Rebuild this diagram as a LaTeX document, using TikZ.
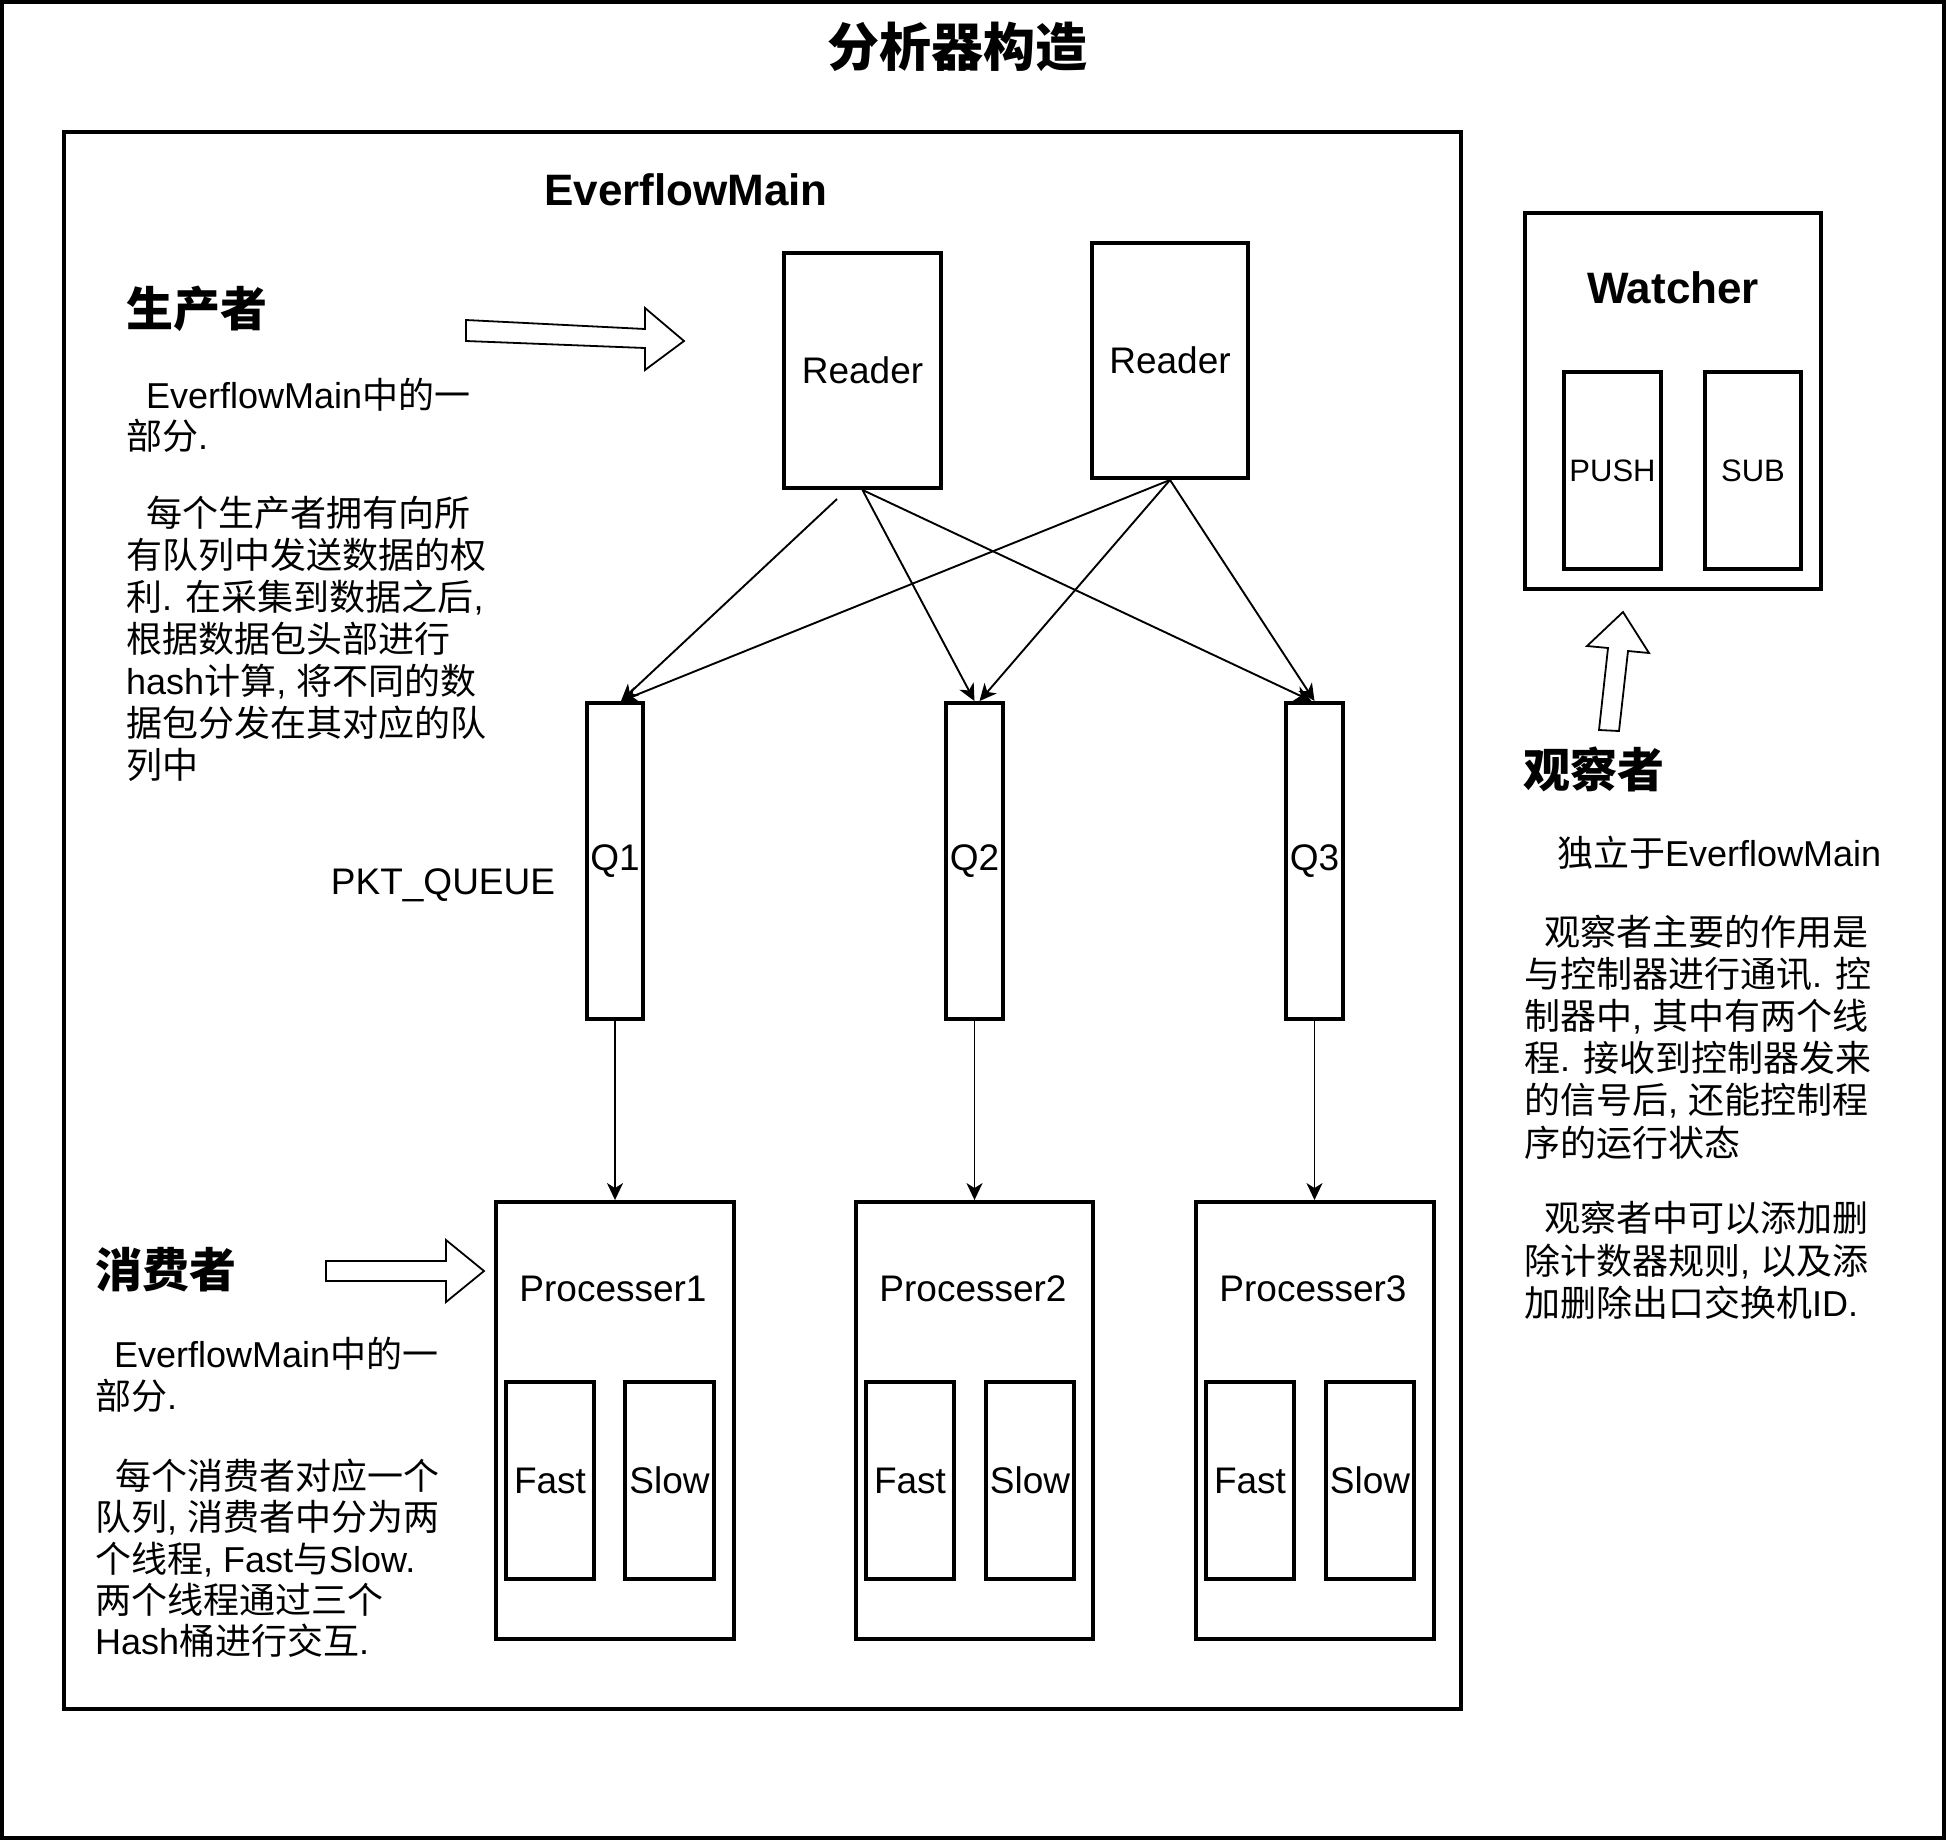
\documentclass[tikz,border=0pt]{standalone}
\usepackage{fontspec}
\setmainfont{Liberation Sans}
\newfontfamily\cjkfont{Noto Sans CJK SC}
\usetikzlibrary{arrows.meta,calc}

% Ideographs are set in the CJK family, everything else in the main family
\XeTeXinterchartokenstate=1
\newXeTeXintercharclass\hanclass
\count255="4E00
\loop
  \XeTeXcharclass\count255=\hanclass
  \advance\count255 by 1
\ifnum\count255<"A000 \repeat
\XeTeXinterchartoks 0 \hanclass = {\cjkfont}
\XeTeXinterchartoks 4095 \hanclass = {\cjkfont}
\XeTeXinterchartoks \hanclass 0 = {\rmfamily}
\XeTeXinterchartoks \hanclass 4095 = {\rmfamily}

\begin{document}
\begin{tikzpicture}[x=1pt,y=-1pt,
  box/.style={draw, line width=3.9pt, inner sep=0pt, rectangle},
  lbl/.style={font=\fontsize{37}{44}\selectfont},
  smalllbl/.style={font=\fontsize{31}{37}\selectfont},
  boldname/.style={inner sep=0pt, font=\fontsize{44}{52}\selectfont\bfseries},
  titletext/.style={inner sep=0pt, font=\fontsize{52}{62}\selectfont\bfseries},
  headtext/.style={anchor=west, inner sep=0pt, font=\fontsize{47}{56}\selectfont\bfseries},
  bodytext/.style={anchor=base west, inner sep=0pt, font=\fontsize{36}{42}\selectfont},
  flow/.style={-{Stealth[length=17pt,width=16pt,inset=5pt]}, line width=1.9pt},
  hollow/.style={draw, line width=1.8pt, fill=white, line join=miter},
]
\useasboundingbox (0,0) rectangle (1946,1840);

% outer frame and title
\node[box, minimum width=1942.1pt, minimum height=1836.1pt] (frame) at (973,920) {};
\node[titletext] (ttl) at (957,46.5) {分析器构造};

% EverflowMain container
\node[box, minimum width=1397pt, minimum height=1577pt] (main) at (762.5,920.5) {};
\node[boldname] (mainname) at (686,190) {EverflowMain};

% readers
\node[box, lbl, minimum width=157pt, minimum height=235pt] (r1) at (862.5,370.5) {Reader};
\node[box, lbl, minimum width=156pt, minimum height=235pt] (r2) at (1170,360.5) {Reader};

% queues
\node[box, lbl, minimum width=56pt, minimum height=316pt] (q1) at (615,861) {Q1};
\node[box, lbl, minimum width=57pt, minimum height=316pt] (q2) at (974.5,861) {Q2};
\node[box, lbl, minimum width=57pt, minimum height=316pt] (q3) at (1314.5,861) {Q3};
\node[lbl, anchor=base, inner sep=0pt] (pkt) at (443,894) {PKT\_QUEUE};

% processors with their two threads
\node[box, minimum width=238pt, minimum height=437pt] (p1) at (615,1420.5) {};
\node[box, minimum width=237pt, minimum height=437pt] (p2) at (974.5,1420.5) {};
\node[box, minimum width=238pt, minimum height=437pt] (p3) at (1315,1420.5) {};
\node[lbl] (p1t) at (613,1289) {Processer1};
\node[lbl] (p2t) at (973,1289) {Processer2};
\node[lbl] (p3t) at (1313,1289) {Processer3};
\node[box, lbl, minimum width=88pt, minimum height=197pt] (f1) at (550,1480.5) {Fast};
\node[box, lbl, minimum width=89pt, minimum height=197pt] (s1) at (669.5,1480.5) {Slow};
\node[box, lbl, minimum width=88pt, minimum height=197pt] (f2) at (910,1480.5) {Fast};
\node[box, lbl, minimum width=88pt, minimum height=197pt] (s2) at (1030,1480.5) {Slow};
\node[box, lbl, minimum width=88pt, minimum height=197pt] (f3) at (1250,1480.5) {Fast};
\node[box, lbl, minimum width=88pt, minimum height=197pt] (s3) at (1370,1480.5) {Slow};

% watcher
\node[box, minimum width=296pt, minimum height=376pt] (w) at (1673,401) {};
\node[boldname] (wt) at (1673,288) {Watcher};
\node[box, smalllbl, minimum width=97pt, minimum height=197pt] (push) at (1612.5,470.5) {PUSH};
\node[box, smalllbl, minimum width=96pt, minimum height=197pt] (sub) at (1753,470.5) {SUB};

% connectors from readers to queues
\coordinate (r1a) at (837,499);
\coordinate (q1in) at ($(q1.north)+(6,0)$);
\coordinate (q2in) at ($(q2.north)+(5,0)$);
\coordinate (q3in) at ($(q3.north)+(-3,0)$);
\draw[flow] (r1a) -- (q1in);
\draw[flow] (r1.south) -- (q2.north);
\draw[flow] (r1.south) -- (q3in);
\draw[flow] (r2.south) -- (q1in);
\draw[flow] (r2.south) -- (q2in);
\draw[flow] (r2.south) -- (q3.north);

% connectors from queues to processors
\draw[flow] (q1.south) -- (q1.south |- p1.north);
\draw[flow] (q2.south) -- (q2.south |- p2.north);
\draw[flow] (q3.south) -- (q3.south |- p3.north);

% hollow block arrows
\draw[hollow] (466,320) -- (645,329) -- (645,308) -- (684,341) -- (645,370) -- (645,348) -- (466,341) -- cycle;
\draw[hollow] (326,1261) -- (446,1261) -- (446,1240) -- (484,1271) -- (446,1302) -- (446,1281) -- (326,1281) -- cycle;
\draw[hollow] (1623,612) -- (1649,653) -- (1628,651) -- (1619,731) -- (1599,730) -- (1608,648) -- (1587,646) -- cycle;

% producer notes
\node[headtext] (prodh) at (126,309) {生产者};
\node[bodytext] (pa0) at (126,408.5) {\hspace*{20pt}EverflowMain中的一};
\node[bodytext] (pa1) at (126,449.5) {部分.};
\foreach \t [count=\i from 0] in {{\hspace*{20pt}每个生产者拥有向所},{有队列中发送数据的权},{利. 在采集到数据之后,},{根据数据包头部进行},{hash计算, 将不同的数},{据包分发在其对应的队},{列中}}
  \node[bodytext] (pb\i) at (126,{526.5+42*\i}) {\t};

% consumer notes
\node[headtext] (consh) at (95,1270) {消费者};
\node[bodytext] (ca0) at (95,1367) {\hspace*{19pt}EverflowMain中的一};
\node[bodytext] (ca1) at (95,1409) {部分.};
\foreach \t [count=\i from 0] in {{\hspace*{20pt}每个消费者对应一个},{队列, 消费者中分为两},{个线程, Fast与Slow.},{两个线程通过三个},{Hash桶进行交互.}}
  \node[bodytext] (cb\i) at (95,{1489.5+41.3*\i}) {\t};

% observer notes
\node[headtext] (obsh) at (1523,769) {观察者};
\node[bodytext] (oa0) at (1524,866.5) {\hspace*{33pt}独立于EverflowMain};
\foreach \t [count=\i from 0] in {{\hspace*{20pt}观察者主要的作用是},{与控制器进行通讯. 控},{制器中, 其中有两个线},{程. 接收到控制器发来},{的信号后, 还能控制程},{序的运行状态}}
  \node[bodytext] (ob\i) at (1524,{945.5+42.1*\i}) {\t};
\foreach \t [count=\i from 0] in {{\hspace*{20pt}观察者中可以添加删},{除计数器规则, 以及添},{加删除出口交换机ID.}}
  \node[bodytext] (oc\i) at (1524,{1231.5+42.5*\i}) {\t};
\end{tikzpicture}
\end{document}
